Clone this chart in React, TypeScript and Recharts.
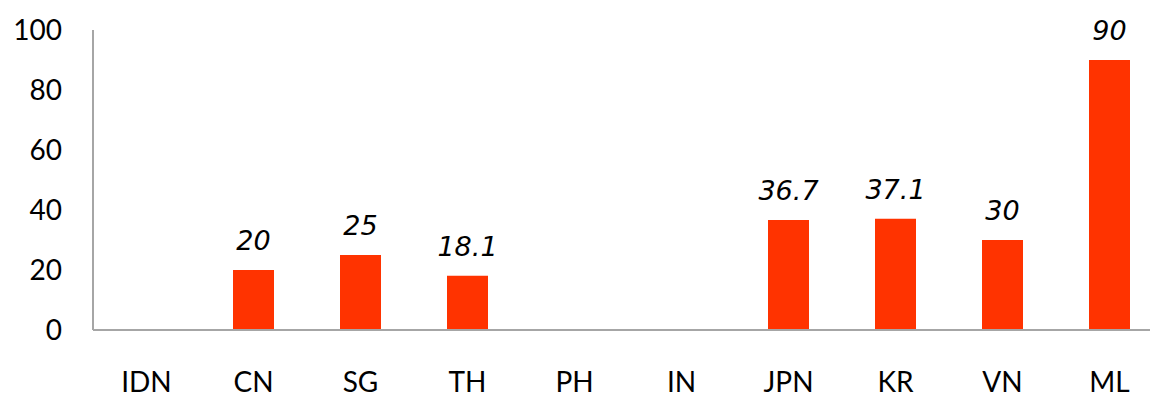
import { BarChart, Bar, XAxis, YAxis, LabelList } from 'recharts'

const countries = ['IDN', 'CN', 'SG', 'TH', 'PH', 'IN', 'JPN', 'KR', 'VN', 'ML']
const values = [0, 20, 25, 18.1, 0, 0, 36.7, 37.1, 30, 90]
const yTicks = [0, 20, 40, 60, 80, 100]

const data = countries.map((c, i) => ({ country: c, value: values[i] }))

const axisFont = { fill: '#000', fontSize: 28, fontFamily: 'Lato, sans-serif' }

// skip labels for empty categories
const ValueLabel = (props: any) => {
  const { x, y, width, value } = props
  if (!value) return null
  return (
    <text
      x={x + width / 2}
      y={y - 20}
      textAnchor="middle"
      fill="#000"
      fontSize={27}
      fontStyle="italic"
      fontFamily="'DejaVu Sans', sans-serif"
    >
      {value}
    </text>
  )
}

export default function App() {
  return (
    <div style={{ position: 'absolute', left: 0, top: 0, width: 1150, height: 399, overflow: 'hidden', background: '#fff' }}>
      <BarChart
        width={1163}
        height={399}
        data={data}
        margin={{ top: 30, right: 0, left: 0, bottom: 0 }}
        barSize={41}
      >
        <XAxis
          dataKey="country"
          height={69}
          tick={axisFont}
          tickLine={false}
          tickSize={0}
          tickMargin={42}
          axisLine={{ stroke: '#a6a6a6', strokeWidth: 2 }}
        />
        <YAxis
          width={93}
          domain={[0, 100]}
          ticks={yTicks}
          tick={axisFont}
          tickLine={false}
          tickSize={0}
          tickMargin={31}
          axisLine={{ stroke: '#a6a6a6', strokeWidth: 2 }}
        />
        <Bar dataKey="value" fill="#ff3300" isAnimationActive={false}>
          <LabelList dataKey="value" content={<ValueLabel />} />
        </Bar>
      </BarChart>
    </div>
  )
}
